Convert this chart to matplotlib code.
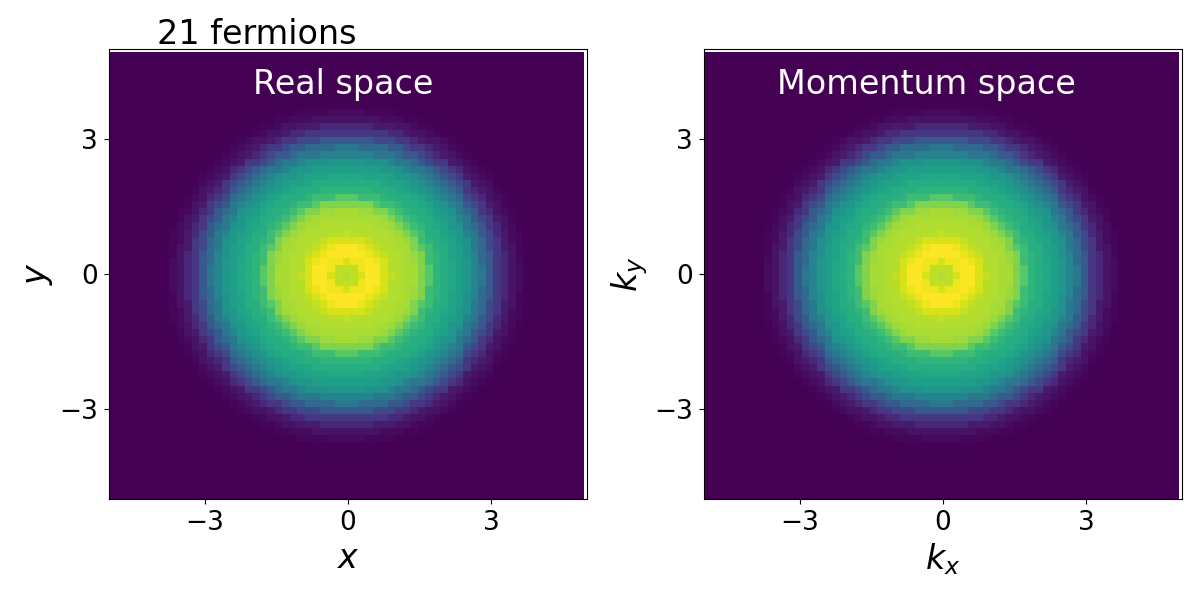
import matplotlib
matplotlib.use("Agg")
import matplotlib.pyplot as plt
import numpy as np

# density, one value per 0.1 of radius (same profile in both panels)
density_by_radius = [
    0.88, 0.88, 0.90, 0.94, 0.98, 1.00, 1.00, 0.97, 0.94, 0.91,
    0.89, 0.88, 0.88, 0.87, 0.87, 0.85, 0.81, 0.74, 0.69, 0.65,
    0.63, 0.62, 0.60, 0.58, 0.56, 0.53, 0.50, 0.45, 0.40, 0.34,
    0.28, 0.22, 0.16, 0.11, 0.07, 0.05, 0.03, 0.015, 0.005, 0.0,
]
radius_step = 0.1
tick_values = [-3, 0, 3]
tick_labels = ["\u22123", "0", "3"]
panel_names = ["Real space", "Momentum space"]
x_labels = ["$x$", "$k_x$"]
y_labels = ["$y$", "$k_y$"]
title_text = "21 fermions"

# grid cells, centred on zero
cell = 0.1576
edges = -5 + cell * np.arange(64)
offset = cell * (np.arange(63) - 31)
rx, ry = np.meshgrid(offset, offset)
bins = np.rint(np.hypot(rx, ry) / radius_step).astype(int)
table = np.array(density_by_radius)
density = np.where(bins < len(table), table[np.minimum(bins, len(table) - 1)], 0.0)

fig = plt.figure(figsize=(12, 6), dpi=100)
positions = [
    [109 / 1200, 1 - 499 / 600, 478 / 1200, 450 / 600],
    [704 / 1200, 1 - 499 / 600, 478 / 1200, 450 / 600],
]
text_x = [0.49, 0.465]

for i in range(2):
    ax = fig.add_axes(positions[i])
    ax.pcolormesh(edges, edges, density, cmap="viridis", vmin=0, vmax=1, shading="flat")
    ax.set_xlim(-5, 5)
    ax.set_ylim(-5, 5)
    ax.set_xticks(tick_values)
    ax.set_xticklabels(tick_labels)
    ax.set_yticks(tick_values)
    ax.set_yticklabels(tick_labels)
    ax.tick_params(labelsize=19, pad=4.5)
    ax.set_xlabel(x_labels[i], fontsize=24, labelpad=4)
    ax.set_ylabel(y_labels[i], fontsize=24, labelpad=3)
    ax.text(text_x[i], 0.922, panel_names[i], color="white", fontsize=24,
            ha="center", va="center", transform=ax.transAxes)

fig.text(157 / 1200, 1 - 44 / 600, title_text, fontsize=24, color="black")
fig.savefig("out.png", dpi=100)
plt.close(fig)
